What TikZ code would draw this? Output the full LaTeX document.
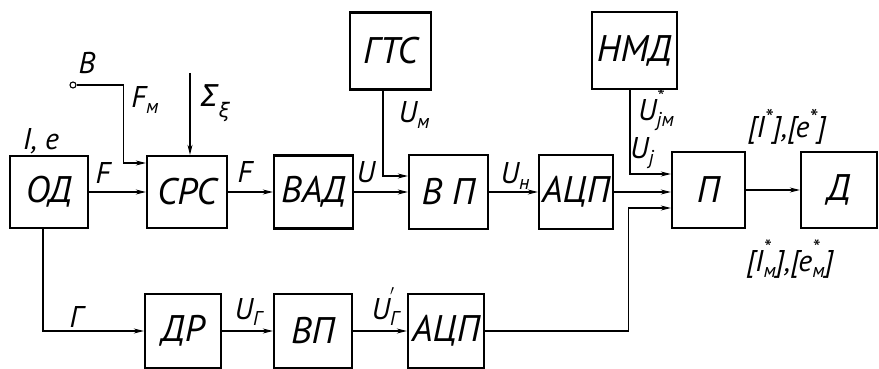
\documentclass[tikz,border=0pt]{standalone}
\usepackage{fontspec}
\setmainfont{PT Sans}
\newfontfamily\grk{DejaVu Sans}
\usetikzlibrary{arrows.meta}
\newcommand{\sbs}[1]{\raisebox{-0.45ex}{\fontsize{20}{20}\selectfont #1}}
\newcommand{\sps}[1]{\raisebox{0.7ex}{\fontsize{24}{24}\selectfont #1}}
\newcommand{\stk}[2]{\begin{tabular}[b]{@{}l@{}}\fontsize{22}{11}\selectfont #1\\[-8pt]\fontsize{20}{14}\selectfont #2\end{tabular}}
\begin{document}
\begin{tikzpicture}[x=1pt,y=-1pt,
  blk/.style={draw, line width=2.4pt, inner sep=0pt, font=\fontsize{37}{37}\selectfont\itshape},
  conn/.style={line width=1.1pt, -{Stealth[length=10pt,width=5pt]}},
  lbl/.style={inner sep=0pt, font=\fontsize{30}{30}\selectfont\itshape}]
\useasboundingbox (0,0) rectangle (879,369);
% blocks
\node[blk, minimum width=78pt, minimum height=72pt] (od) at (49,192) {ОД};
\node[blk, minimum width=80pt, minimum height=72pt] (cpc) at (187,192) {СРС};
\node[blk, minimum width=79pt, minimum height=73pt] (vad) at (313.5,192) {ВАД};
\node[blk, minimum width=79pt, minimum height=74pt] (vp) at (448.5,192) {В П};
\node[blk, minimum width=74pt, minimum height=74pt] (adc) at (576,192) {АЦП};
\node[blk, minimum width=73pt, minimum height=76pt] (p) at (708.5,190) {П};
\node[blk, minimum width=76pt, minimum height=76pt] (d) at (839,190) {Д};
\node[blk, minimum width=81pt, minimum height=77pt] (gts) at (390.5,51) {ГТС};
\node[blk, minimum width=85pt, minimum height=77pt] (nmd) at (634.5,50.5) {НМД};
\node[blk, minimum width=76pt, minimum height=74pt] (dr) at (183,331) {ДР};
\node[blk, minimum width=78pt, minimum height=74pt] (vp2) at (313,331) {ВП};
\node[blk, minimum width=76pt, minimum height=74pt] (adc2) at (446,331) {АЦП};
% terminal B
\node[circle, draw, line width=1.1pt, inner sep=0pt, minimum size=6pt] (b) at (73,85) {};
\coordinate (sig) at (190,73);
% connectors
\draw[conn] (od.east) -- (cpc.west);
\draw[conn] (b.east) -| ([xshift=-22pt,yshift=29pt]cpc.west) -- ([yshift=29pt]cpc.west);
\draw[conn] (sig) -- (sig |- cpc.north);
\draw[conn] (cpc.east) -- (vad.west);
\draw[conn] (vad.east) -- (vp.west);
\draw[conn] ([xshift=-7.5pt]gts.south) |- ([yshift=16pt]vp.west);
\draw[conn] (vp.east) -- (adc.east -| adc.west);
\draw[conn] (adc.east) -- (adc.east -| p.west);
\draw[conn] ([xshift=-4.5pt]nmd.south) |- ([yshift=16pt]p.west);
\draw[conn] (adc2.east) -| ([xshift=-42pt,yshift=-18pt]p.west) -- ([yshift=-18pt]p.west);
\draw[conn] (p.east) -- (d.west);
\draw[conn] ([xshift=-6pt]od.south) |- (dr.west);
\draw[conn] (dr.east) -- (vp2.west);
\draw[conn] (vp2.east) -- (adc2.west);
% labels
\node[lbl] (l1) at (41,141) {I, e};
\node[lbl] (l2) at (103,173) {F};
\node[lbl] (l3) at (87,63) {B};
\node[lbl] (l4) at (145,100) {F\sbs{м}};
\node[lbl] (l5) at (215,103) {{\grk\itshape Σ}\raisebox{-0.7ex}{\fontsize{20}{20}\selectfont\grk\itshape ξ}};
\node[lbl] (l6) at (245,172) {F};
\node[lbl] (l7) at (366,172) {U};
\node[lbl] (l8) at (414,115) {U\sbs{м}};
\node[lbl] (l9) at (515,176) {U\sbs{н}};
\node[lbl] (l10) at (656,110) {U\raisebox{-6pt}{\stk{*}{jм}}};
\node[lbl] (l11) at (642,153) {U\sbs{j}};
\node[lbl] (l12) at (787,127) {[I\sps{*}],[e\sps{*}]};
\node[lbl] (l13) at (790,260) {[I\raisebox{-6pt}{\stk{*}{м}}],[e\raisebox{-6pt}{\stk{*}{м}}]};
\node[lbl] (l14) at (76,317) {Г};
\node[lbl] (l15) at (248,312) {U\sbs{Г}};
\node[lbl] (l16) at (385,308) {U\raisebox{-6pt}{\stk{$'$}{Г}}};
\end{tikzpicture}
\end{document}
